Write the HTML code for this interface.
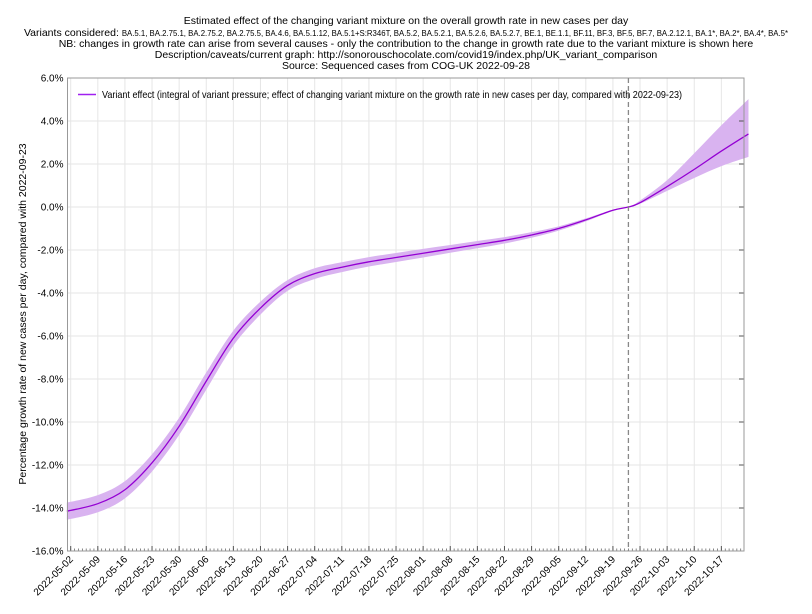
<!DOCTYPE html>
<html><head><meta charset="utf-8">
<style>
body{margin:0;background:#fff;}
svg text{font-family:"Liberation Sans","DejaVu Sans",sans-serif;}
</style></head>
<body>
<svg id="chart" width="812" height="609" viewBox="0 0 812 609" xmlns="http://www.w3.org/2000/svg">
<g font-size="10.5" text-anchor="middle" fill="#000">
<text x="406" y="24">Estimated effect of the changing variant mixture on the overall growth rate in new cases per day</text>
<text x="406" y="36"><tspan font-size="10.5">Variants considered: </tspan><tspan font-size="7.8">BA.5.1, BA.2.75.1, BA.2.75.2, BA.2.75.5, BA.4.6, BA.5.1.12, BA.5.1+S:R346T, BA.5.2, BA.5.2.1, BA.5.2.6, BA.5.2.7, BE.1, BE.1.1, BF.11, BF.3, BF.5, BF.7, BA.2.12.1, BA.1*, BA.2*, BA.4*, BA.5*</tspan></text>
<text x="406" y="47">NB: changes in growth rate can arise from several causes - only the contribution to the change in growth rate due to the variant mixture is shown here</text>
<text x="406" y="58">Description/caveats/current graph: http://sonorouschocolate.com/covid19/index.php/UK_variant_comparison</text>
<text x="406" y="69">Source: Sequenced cases from COG-UK 2022-09-28</text>
</g>
<g id="grid"></g>
<g id="band"></g>
<g id="line"></g>
<g id="axes"></g>
<text font-size="10.5" text-anchor="middle" transform="translate(26,314) rotate(-90)">Percentage growth rate of new cases per day, compared with 2022-09-23</text>
<g>
<line x1="78" y1="94.5" x2="96" y2="94.5" stroke="#a020f0" stroke-width="1.5"/>
<text x="102" y="98" font-size="10.3" textLength="580" lengthAdjust="spacingAndGlyphs">Variant effect (integral of variant pressure; effect of changing variant mixture on the growth rate in new cases per day, compared with 2022-09-23)</text>
</g>
</svg>
<script>
const dayOffsets=[-1,7,14,21,28,35,42,49,56,63,70,77,84,91,98,105,112,119,126,133,140,144,147,154,161,168,175];
const centerVals=[-14.15,-13.8,-13.15,-11.9,-10.2,-8.1,-6.1,-4.7,-3.65,-3.1,-2.8,-2.55,-2.35,-2.15,-1.95,-1.75,-1.55,-1.3,-1.0,-0.6,-0.15,0,0.2,0.95,1.75,2.6,3.4];
const upperVals=[-13.75,-13.4,-12.75,-11.5,-9.8,-7.7,-5.75,-4.4,-3.4,-2.85,-2.57,-2.33,-2.14,-1.95,-1.77,-1.58,-1.4,-1.17,-0.9,-0.53,-0.12,0,0.3,1.25,2.5,3.8,5.02];
const lowerVals=[-14.55,-14.2,-13.55,-12.3,-10.6,-8.5,-6.45,-5.0,-3.9,-3.35,-3.03,-2.77,-2.56,-2.35,-2.13,-1.92,-1.7,-1.43,-1.1,-0.67,-0.18,0,0.15,0.75,1.35,1.9,2.33];
const yTicks=[6,4,2,0,-2,-4,-6,-8,-10,-12,-14,-16];
const xTickLabels=["2022-05-02","2022-05-09","2022-05-16","2022-05-23","2022-05-30","2022-06-06","2022-06-13","2022-06-20","2022-06-27","2022-07-04","2022-07-11","2022-07-18","2022-07-25","2022-08-01","2022-08-08","2022-08-15","2022-08-22","2022-08-29","2022-09-05","2022-09-12","2022-09-19","2022-09-26","2022-10-03","2022-10-10","2022-10-17"];
const refDay=144;
const L=67.5,R=744,T=78,B=551;
const x0=70.7,pxDay=3.873;
const X=d=>x0+d*pxDay;
const Y=v=>T+(6-v)*(B-T)/22;
const NS="http://www.w3.org/2000/svg";
function mk(tag,attrs,parent){const e=document.createElementNS(NS,tag);for(const k in attrs)e.setAttribute(k,attrs[k]);parent.appendChild(e);return e;}
function segs(pts){let d="";for(let i=0;i<pts.length-1;i++){const p0=pts[i-1]||pts[i],p1=pts[i],p2=pts[i+1],p3=pts[i+2]||p2;const c1=[p1[0]+(p2[0]-p0[0])/6,p1[1]+(p2[1]-p0[1])/6],c2=[p2[0]-(p3[0]-p1[0])/6,p2[1]-(p3[1]-p1[1])/6];d+=" C"+c1.join(",")+" "+c2.join(",")+" "+p2.join(",");}return d;}
const grid=document.getElementById('grid'),axes=document.getElementById('axes');
yTicks.forEach(v=>{
 const g=mk('line',{x1:L,x2:R,y1:Y(v),y2:Y(v),stroke:'#e6e6e6','stroke-width':1},grid);
 
 const t=mk('text',{x:L-4,y:Y(v)+3.5,'font-size':10,'text-anchor':'end'},axes);
 
 t.textContent=v.toFixed(1)+"%";
 mk('line',{x1:R-5,x2:R,y1:Y(v),y2:Y(v),stroke:'#555'},axes);
});
xTickLabels.forEach((s,i)=>{
 const x=X(i*7);
 const g=mk('line',{x1:x,x2:x,y1:T,y2:B,stroke:'#e6e6e6'},grid);
 
 mk('line',{x1:x,x2:x,y1:B,y2:B-5,stroke:'#555'},axes);
 const t=mk('text',{'font-size':10,'text-anchor':'end',transform:`translate(${x+3},${B+9}) rotate(-45)`},axes);
 
 t.textContent=s;
});
for(let d=-1;d<=175;d++){const x=X(d);if(x<L||x>R)continue;mk('line',{x1:x,x2:x,y1:B,y2:B-2.5,stroke:'#555','stroke-width':0.7},axes);}
mk('rect',{x:L,y:T,width:R-L,height:B-T,fill:'none',stroke:'#999'},axes);
const up=dayOffsets.map((d,i)=>[X(d),Y(upperVals[i])]);
const lo=dayOffsets.map((d,i)=>[X(d),Y(lowerVals[i])]).reverse();
const bp="M"+up[0].join(",")+segs(up)+" L"+lo[0].join(",")+segs(lo)+" Z";
const band=mk('path',{d:bp,fill:'#d9b3f0',stroke:'none'},document.getElementById('band'));

const cp=dayOffsets.map((d,i)=>[X(d),Y(centerVals[i])]);
const ln=mk('path',{d:"M"+cp[0].join(",")+segs(cp),fill:'none',stroke:'#9400d3','stroke-width':1.3},document.getElementById('line'));

const rl=mk('line',{x1:X(refDay),x2:X(refDay),y1:T,y2:B,stroke:'#888','stroke-width':1.3,'stroke-dasharray':'5,3'},axes);

</script>
</body></html>
